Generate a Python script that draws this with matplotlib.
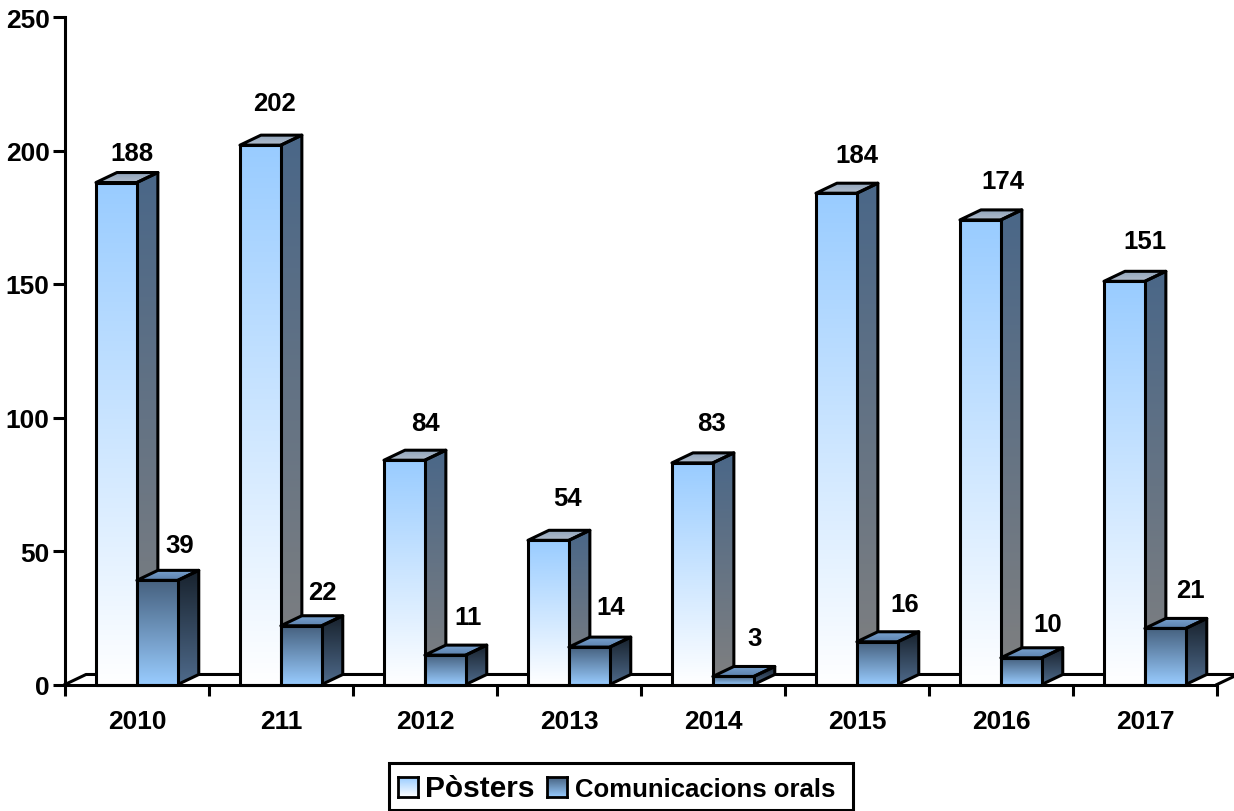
import matplotlib
matplotlib.use('Agg')
from matplotlib import pyplot as plt
from matplotlib.colors import LinearSegmentedColormap
from matplotlib.patches import Polygon, Rectangle
import numpy as np

years = ['2010', '211', '2012', '2013', '2014', '2015', '2016', '2017']
posters = [188, 202, 84, 54, 83, 184, 174, 151]
orals = [39, 22, 11, 14, 3, 16, 10, 21]
yticks = [0, 50, 100, 150, 200, 250]

# hand placed value labels, pixels from the top centre of each bar
poster_nudge_x = [16, 14, 21, 19, 19, 20, 22, 21]
poster_nudge_y = [30, 42, 37, 42, 40, 38, 39, 40]
oral_nudge_x = [22, 21, 23, 21, 21, 27, 26, 25]
oral_nudge_y = [35, 34, 38, 40, 38, 38, 34, 38]

plt.rcParams['font.family'] = ['Liberation Sans', 'DejaVu Sans']
plt.rcParams['font.weight'] = 'bold'

W, H = 1234, 812
fig = plt.figure(figsize=(W / 100, H / 100), dpi=100)
ax = fig.add_axes([65 / W, 1 - 685.5 / H, 1152 / W, 667.5 / H])
ax.set_xlim(0, len(years))
ax.set_ylim(0, 250)

BAR_W = 0.284
START = 0.215
DX = 21 / 144
DY = 3.75
EDGE = 2.2
PX = 0.72  # points per pixel

grad_poster_front = LinearSegmentedColormap.from_list('pf', ['#ffffff', '#99ccff'])
grad_poster_side = LinearSegmentedColormap.from_list('ps', ['#808080', '#4a6788'])
grad_poster_top = LinearSegmentedColormap.from_list('pt', ['#b0bccb', '#8ea2ba'])
grad_oral_front = LinearSegmentedColormap.from_list('of', ['#99ccff', '#46617f'])
grad_oral_side = LinearSegmentedColormap.from_list('os', ['#4f6b8c', '#18222d'])
grad_oral_top = LinearSegmentedColormap.from_list('ot', ['#5c82ad', '#7ba4d2'])
ramp = np.linspace(0, 1, 256)[::-1].reshape(-1, 1)


def shaded(points, cmap, zorder):
    xs = [p[0] for p in points]
    ys = [p[1] for p in points]
    im = ax.imshow(ramp, cmap=cmap, aspect='auto', zorder=zorder, clip_on=True,
                   extent=(min(xs), max(xs), min(ys), max(ys)))
    outline = Polygon(points, closed=True, facecolor='none', edgecolor='black',
                      linewidth=EDGE, joinstyle='round', zorder=zorder + 0.1,
                      clip_on=False)
    ax.add_patch(outline)
    im.set_clip_path(Polygon(points, closed=True, transform=ax.transData))


def bar3d(x, value, front, side, top, zorder):
    shaded([(x + BAR_W, 0), (x + BAR_W + DX, DY), (x + BAR_W + DX, value + DY),
            (x + BAR_W, value)], side, zorder)
    shaded([(x, value), (x + BAR_W, value), (x + BAR_W + DX, value + DY),
            (x + DX, value + DY)], top, zorder)
    shaded([(x, 0), (x + BAR_W, 0), (x + BAR_W, value), (x, value)], front, zorder + 0.2)


def value_label(x, value, nudge_x, nudge_y):
    ax.annotate(str(value), (x, value), xytext=(nudge_x * PX, nudge_y * PX),
                textcoords='offset points', ha='center', va='center',
                fontsize=18.5, fontweight='bold', zorder=5)


# floor
n = len(years)
ax.plot([0, DX, n + DX], [0, DY, DY], color='black', lw=EDGE, zorder=1, clip_on=False)
ax.plot([n, n + DX], [0, DY], color='black', lw=EDGE, zorder=1, clip_on=False)

for i, (p, o) in enumerate(zip(posters, orals)):
    x = i + START
    bar3d(x, p, grad_poster_front, grad_poster_side, grad_poster_top, 2)
    bar3d(x + BAR_W, o, grad_oral_front, grad_oral_side, grad_oral_top, 3)
    value_label(x + BAR_W / 2, p, poster_nudge_x[i], poster_nudge_y[i])
    value_label(x + BAR_W * 1.5, o, oral_nudge_x[i], oral_nudge_y[i])

ax.set_xlim(0, n)
ax.set_ylim(0, 250)
for side in ('top', 'right'):
    ax.spines[side].set_visible(False)
for side in ('left', 'bottom'):
    ax.spines[side].set_linewidth(EDGE)
    ax.spines[side].set_zorder(6)
ax.set_yticks(yticks)
ax.set_xticks(range(n + 1))
ax.set_xticklabels([])
ax.set_xticks(np.arange(n) + 0.5, years, minor=True)
ax.tick_params(axis='x', which='major', length=8, width=EDGE)
ax.tick_params(axis='x', which='minor', length=0, pad=17.5, labelsize=19)
ax.tick_params(axis='y', length=8.5, width=EDGE, labelsize=19, pad=2.5)

# legend
fig.add_artist(Rectangle((389 / W, 1 - 811 / H), 464 / W, 47 / H, transform=fig.transFigure,
                         facecolor='white', edgecolor='black', linewidth=EDGE))
for left, cmap in ((398, grad_poster_front), (547, grad_oral_front)):
    sw = fig.add_axes([left / W, 1 - 798 / H, 20 / W, 20 / H], zorder=5)
    sw.imshow(ramp, cmap=cmap, aspect='auto')
    sw.set_xticks([])
    sw.set_yticks([])
    for s in sw.spines.values():
        s.set_linewidth(2)
fig.text(425 / W, 1 - 789.5 / H, 'Pòsters', fontsize=21.5, fontweight='bold', va='center')
fig.text(575 / W, 1 - 790.5 / H, 'Comunicacions orals', fontsize=18.5, fontweight='bold', va='center')

fig.savefig('out.png', dpi=100)
